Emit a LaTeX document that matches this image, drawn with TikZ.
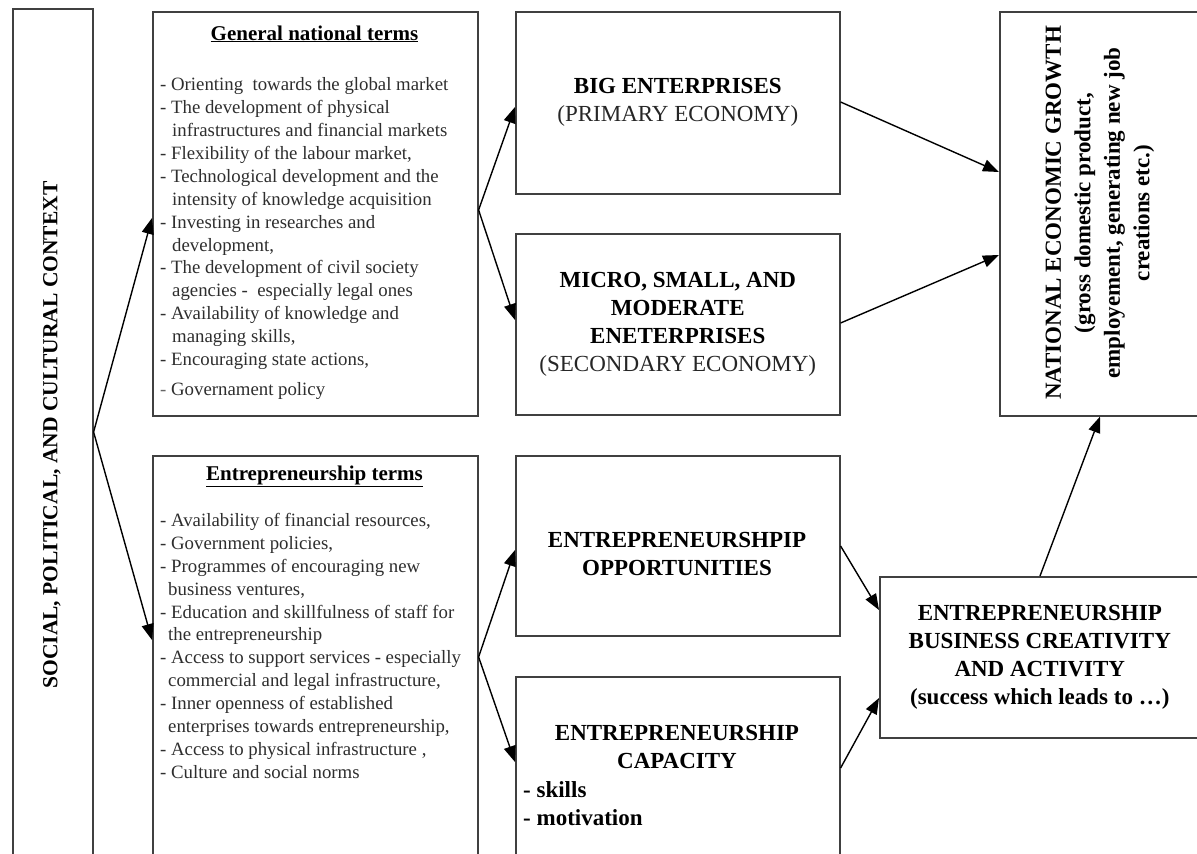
\documentclass[tikz,border=0pt]{standalone}
\usepackage{fontspec}
\setmainfont{Liberation Serif}
\usetikzlibrary{arrows.meta}
\begin{document}
\begin{tikzpicture}[x=1pt,y=-1pt,
  box/.style={draw=black!75, line width=1.6pt, inner sep=0pt, anchor=north west},
  arr/.style={draw=black, line width=1.4pt, -{Triangle[length=16pt,width=12pt]}},
  title/.style={font=\fontsize{23}{28}\selectfont\bfseries, align=center, text=black, inner sep=0pt},
  head/.style={font=\fontsize{21}{25}\selectfont\bfseries, text=black, inner sep=0pt},
  lst/.style={font=\fontsize{18.8}{22.9}\selectfont, align=left, text=black!82, inner sep=0pt, anchor=north west},
]
\useasboundingbox (0,0) rectangle (1197,854);
\begin{scope}
\clip (0,0) rectangle (1197,854);
% left context box
\node[box, minimum width=80pt, minimum height=854pt] (ctx) at (12,8) {};
\node[font=\fontsize{21.5}{26}\selectfont\bfseries, rotate=90, inner sep=0pt] (ctxt) at (52,435) {SOCIAL, POLITICAL, AND CULTURAL CONTEXT};
% general national terms
\node[box, minimum width=325pt, minimum height=404pt] (gen) at (152,11) {};
\node[head, anchor=base] (genh) at (314.5,40) {\underline{General national terms}};
\node[lst] (genl) at (160,77.5) {- Orienting\ \ towards the global market\\
- The development of physical\\
\hspace*{12pt}infrastructures and financial markets\\
- Flexibility of the labour market,\\
- Technological development and the\\
\hspace*{12pt}intensity of knowledge acquisition\\
- Investing in researches and\\
\hspace*{12pt}development,\\
- The development of civil society\\
\hspace*{12pt}agencies -\ \ especially legal ones\\
- Availability of knowledge and\\
\hspace*{12pt}managing skills,\\
- Encouraging state actions,\\[7pt]
{\color{black!60}-} Governament policy};
% entrepreneurship terms
\node[box, minimum width=325pt, minimum height=420pt] (ent) at (152,455) {};
\node[head, anchor=base] (enth) at (314.5,480) {\underline{Entrepreneurship terms}};
\node[lst] (entl) at (160,513) {- Availability of financial resources,\\
- Government policies,\\
- Programmes of encouraging new\\
\hspace*{8pt}business ventures,\\
- Education and skillfulness of staff for\\
\hspace*{8pt}the entrepreneurship\\
- Access to support services - especially\\
\hspace*{8pt}commercial and legal infrastructure,\\
- Inner openness of established\\
\hspace*{8pt}enterprises towards entrepreneurship,\\
- Access to physical infrastructure ,\\
- Culture and social norms};
% middle column
\node[box, minimum width=324pt, minimum height=182pt, title] (big) at (515,11) {BIG ENTERPRISES\\{\mdseries\color{black!85}(PRIMARY ECONOMY)}};
\node[box, minimum width=324pt, minimum height=181pt, title] (micro) at (515,233) {MICRO, SMALL, AND\\MODERATE\\ENETERPRISES\\{\mdseries\color{black!85}(SECONDARY ECONOMY)}};
\node[box, minimum width=324pt, minimum height=180pt] (opp) at (515,455) {};
\node[title] (oppt) at (677,554) {ENTREPRENEURSHPIP\\OPPORTUNITIES};
\node[box, minimum width=324pt, minimum height=200pt] (cap) at (515,676) {};
\node[title] (capt) at (677,747) {ENTREPRENEURSHIP\\CAPACITY};
\node[title, align=left, anchor=west] (capl) at (523,804) {- skills\\- motivation};
% right column
\node[box, minimum width=200pt, minimum height=404pt] (nat) at (999,11) {};
\node[title, font=\fontsize{23}{29.5}\selectfont\bfseries, rotate=90] (natt) at (1100,213) {NATIONAL ECONOMIC GROWTH\\(gross domestic product,\\employement, generating new job\\creations etc.)};
\node[box, minimum width=320pt, minimum height=161pt, title] (cre) at (879,576) {ENTREPRENEURSHIP\\BUSINESS CREATIVITY\\AND ACTIVITY\\(success which leads to …)};
% connectors
\draw[arr] (ctx.east |- 0,432) -- (gen.west |- 0,218);
\draw[arr] (ctx.east |- 0,432) -- (ent.west |- 0,640);
\draw[arr] (gen.east |- 0,210) -- (big.west |- 0,107);
\draw[arr] (gen.east |- 0,210) -- (micro.west |- 0,320);
\draw[arr] (ent.east |- 0,657) -- (opp.west |- 0,550);
\draw[arr] (ent.east |- 0,657) -- (cap.west |- 0,762);
\draw[arr] (big.east |- 0,102) -- (nat.west |- 0,172);
\draw[arr] (micro.east |- 0,323) -- (nat.west |- 0,255);
\draw[arr] (opp.east |- 0,546) -- (cre.west |- 0,610);
\draw[arr] (cap.east |- 0,768) -- (cre.west |- 0,698);
\draw[arr] (cre.north -| 1040,0) -- (nat.south -| 1100,0);
\end{scope}
\end{tikzpicture}
\end{document}
